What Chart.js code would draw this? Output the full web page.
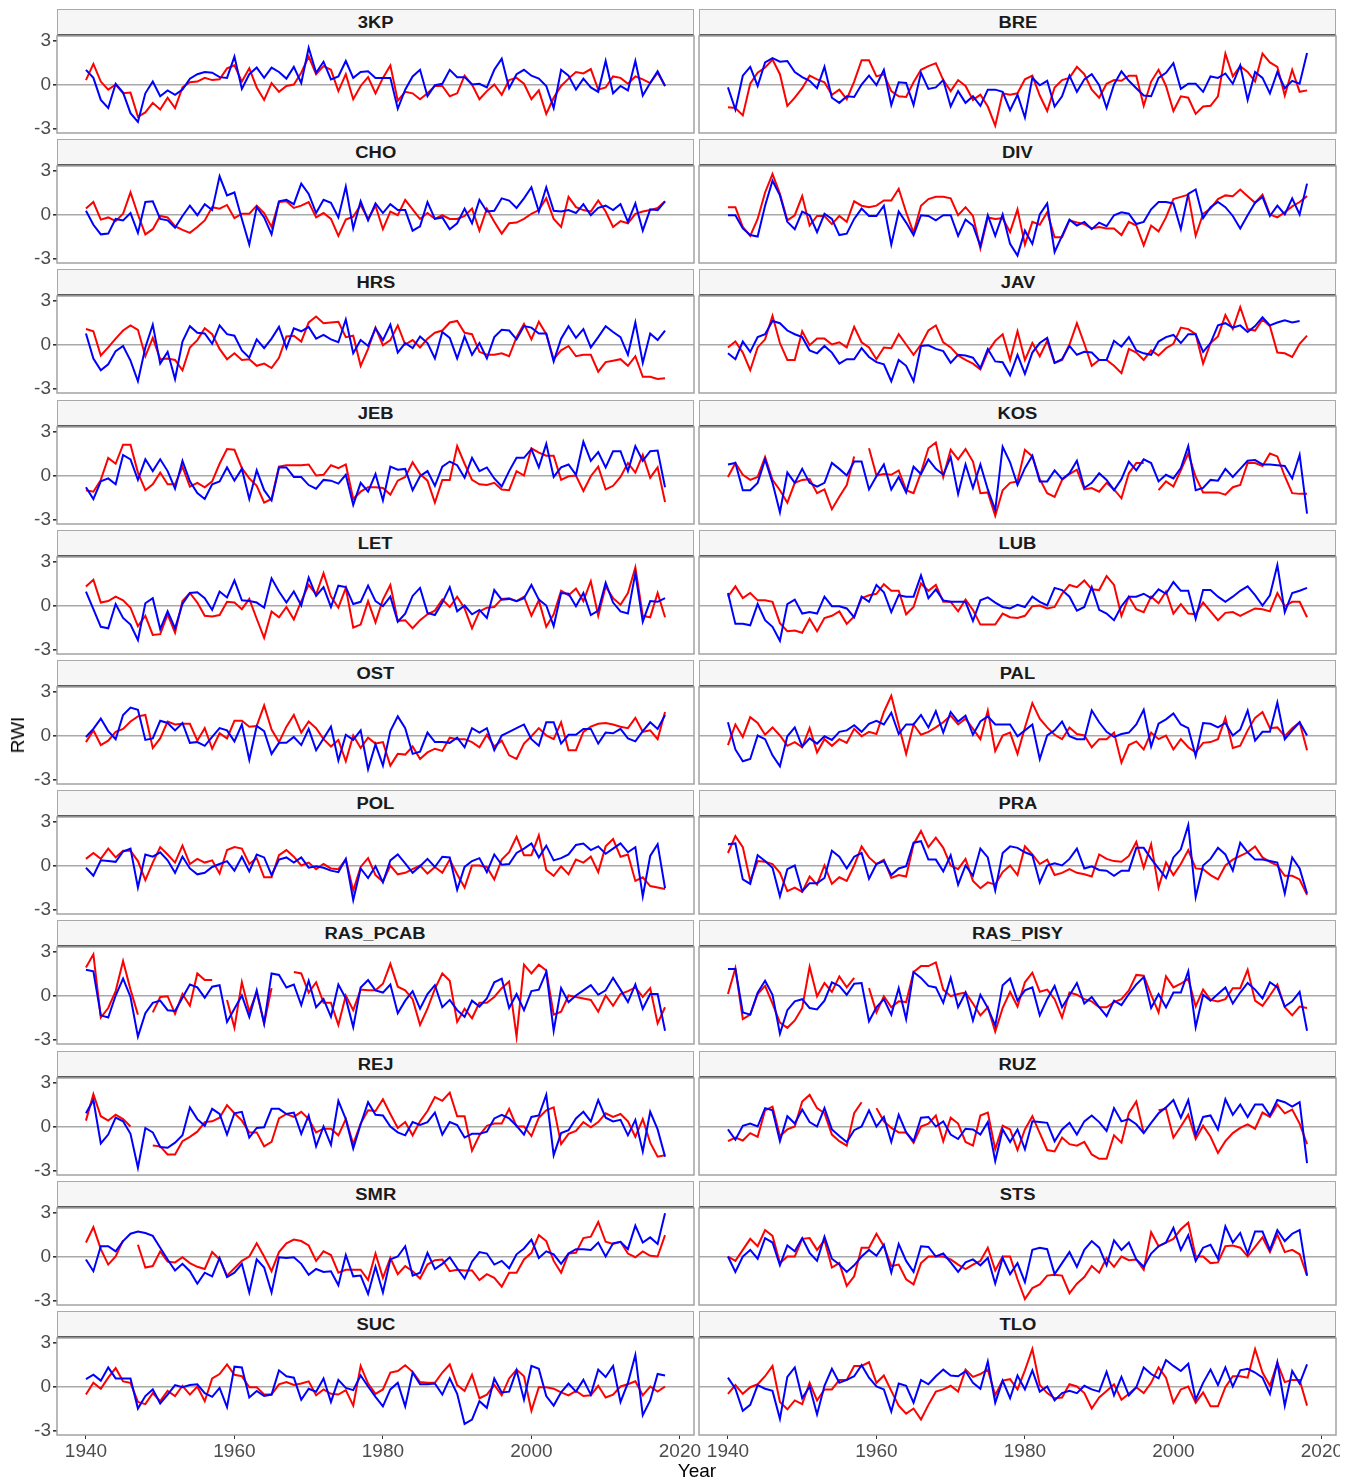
<!DOCTYPE html>
<html><head><meta charset="utf-8">
<script src="https://cdn.jsdelivr.net/npm/chart.js@4.4.1/dist/chart.umd.min.js"></script>
<style>
html,body{margin:0;padding:0;background:#fff;}
body{width:1358px;height:1483px;position:relative;overflow:hidden;font-family:'Liberation Sans',Arial,sans-serif;}
.strip{position:absolute;box-sizing:border-box;background:#f6f6f6;border:1px solid #a9a9a9;border-bottom:2px solid #5c5c5c;display:flex;align-items:center;justify-content:center;padding-top:2px;}
.strip span{font-weight:bold;font-size:16px;color:#1a1a1a;display:inline-block;transform:scaleX(1.15);}
canvas{position:absolute;}
.axt{position:absolute;font-size:19px;color:#000;white-space:nowrap;}
</style></head><body>
<script>
const years = [1940,1941,1942,1943,1944,1945,1946,1947,1948,1949,1950,1951,1952,1953,1954,1955,1956,1957,1958,1959,
1960,1961,1962,1963,1964,1965,1966,1967,1968,1969,1970,1971,1972,1973,1974,1975,1976,1977,1978,1979,
1980,1981,1982,1983,1984,1985,1986,1987,1988,1989,1990,1991,1992,1993,1994,1995,1996,1997,1998,1999,
2000,2001,2002,2003,2004,2005,2006,2007,2008,2009,2010,2011,2012,2013,2014,2015,2016,2017,2018];
const siteNames = ['3KP','BRE','CHO','DIV','HRS','JAV','JEB','KOS','LET','LUB','OST','PAL','POL','PRA','RAS_PCAB','RAS_PISY','REJ','RUZ','SMR','STS','SUC','TLO'];
const xTicks = [1940,1960,1980,2000,2020];
const yTicks = [-3,0,3];

const red_3KP = [0.3,1.4,0.2,-0.35,0.0,-0.6,-0.55,-2.2,-1.9,-1.25,
-1.7,-0.9,-1.6,-0.2,0.15,0.2,0.45,0.3,0.35,1.1,
1.3,0.2,1.1,-0.2,-1.05,0.1,-0.5,-0.1,0.0,0.8,
1.9,0.7,1.25,1.0,-0.45,0.7,-1.0,-0.1,0.5,-0.6,
0.45,1.3,-1.1,-0.5,-0.6,-1.0,-0.6,-0.1,-0.1,-0.8,
-0.6,0.6,0.0,-1.0,-0.45,0.0,-0.7,0.3,0.45,0.05,
-1.0,-0.4,-2.0,-0.9,-0.1,0.4,0.85,0.75,1.05,-0.35,
-0.2,0.55,0.45,0.05,0.55,0.35,0.1,0.8,-0.1];
const blue_3KP = [1.0,0.45,-1.05,-1.6,0.05,-0.55,-1.95,-2.55,-0.6,0.2,
-0.8,-0.4,-0.7,-0.35,0.4,0.7,0.85,0.8,0.5,0.45,
1.9,-0.3,0.7,1.15,0.45,1.15,0.85,0.4,1.2,0.1,
2.5,0.8,1.55,0.35,0.55,1.6,0.45,0.85,0.9,0.45,
0.45,0.45,-1.65,-0.35,0.55,1.0,-0.8,-0.05,0.05,1.0,
0.5,0.5,0.0,0.05,-0.2,1.0,1.75,-0.25,0.7,1.0,
0.6,0.4,-0.1,-1.6,1.0,0.6,-0.35,0.4,-0.2,-0.5,
1.6,-0.6,-0.1,-0.4,1.6,-0.75,0.1,0.9,-0.1];
const red_CHO = [0.4,0.85,-0.35,-0.2,-0.45,0.05,1.5,0.0,-1.35,-1.0,
-0.1,-0.2,-0.8,-1.05,-1.25,-0.85,-0.4,0.5,0.4,0.65,
-0.25,0.05,0.05,0.6,0.1,-0.85,0.85,0.9,0.45,0.6,
0.85,-0.2,0.1,-0.3,-1.45,-0.35,-0.15,0.65,-0.3,0.6,
-1.0,0.2,-0.05,1.0,0.35,-0.3,0.1,-0.3,-0.05,-0.3,
-0.3,-0.1,0.4,-1.1,0.4,-0.5,-1.3,-0.6,-0.55,-0.3,
0.05,0.3,1.1,-0.3,-0.85,1.2,0.5,0.3,0.2,0.95,
0.2,-0.85,-0.45,-0.6,0.05,0.2,0.3,0.45,0.9];
const blue_CHO = [0.25,-0.7,-1.35,-1.3,-0.3,-0.4,0.1,-1.25,0.85,0.9,
-0.3,-0.4,-0.9,-0.1,0.6,-0.05,0.7,0.3,2.6,1.3,
1.5,-0.3,-2.05,0.5,-0.2,-1.35,0.9,1.0,0.7,2.1,
1.4,0.1,1.0,0.8,-0.2,1.9,-0.95,0.9,-0.4,0.75,
0.1,0.7,0.3,0.3,-1.1,-0.8,0.85,-0.3,-0.2,-1.0,
-0.6,0.4,-0.6,1.0,0.2,0.25,1.1,0.95,0.45,1.1,
1.85,0.2,1.85,0.25,0.2,0.3,0.1,0.7,-0.05,0.45,
0.6,0.3,0.7,-0.5,0.75,-1.1,0.35,0.3,0.9];
const red_HRS = [1.05,0.9,-0.75,-0.2,0.4,0.95,1.3,1.0,-0.8,0.45,
-1.0,-0.95,-1.05,-1.75,-0.2,0.3,1.1,0.7,-0.3,-1.0,
-0.6,-1.05,-1.0,-1.45,-1.3,-1.6,-0.9,0.55,0.6,0.2,
1.5,1.9,1.45,1.5,1.55,0.5,0.6,-1.45,-0.3,1.15,
-0.05,0.3,1.3,0.0,0.3,-0.2,0.4,0.8,0.95,1.5,
1.6,0.8,0.7,-0.5,-0.7,-0.7,-0.6,-0.8,0.5,1.4,
0.35,1.55,0.7,-1.0,-0.4,-0.1,-0.8,-0.7,-0.7,-1.85,
-1.2,-1.1,-1.0,-1.45,-0.8,-2.2,-2.2,-2.35,-2.3];
const blue_HRS = [0.75,-0.95,-1.75,-1.35,-0.45,-0.1,-1.1,-2.5,-0.2,1.35,
-1.3,-0.5,-2.35,0.2,1.25,0.8,0.75,0.05,1.3,0.7,
0.6,-0.4,-0.9,0.35,-0.25,0.4,1.2,-0.25,1.1,0.9,
1.2,0.4,0.65,0.35,0.15,1.7,-0.6,0.3,-0.1,1.1,
0.3,1.35,-0.55,0.1,-0.25,0.55,0.1,-0.95,0.85,0.45,
-0.95,0.55,-0.7,0.1,-0.95,0.5,1.0,0.95,0.35,1.25,
1.15,0.75,0.75,-1.15,0.4,1.25,0.45,1.05,-0.2,0.5,
1.25,0.85,0.5,-0.7,1.5,-1.25,0.75,0.3,0.95];
const red_JEB = [-1.0,-1.1,-0.3,1.2,0.8,2.1,2.1,0.2,-1.0,-0.6,
0.2,-0.6,-0.6,0.6,-0.75,-0.5,-0.8,-0.4,0.8,1.8,
1.75,0.5,-0.2,-0.7,-1.85,-1.6,0.6,0.7,0.7,0.7,
0.75,0.0,0.05,0.7,0.5,0.75,-1.6,-1.1,-0.8,-0.8,
-0.85,-1.3,-0.35,-0.1,0.9,0.1,-0.35,-1.85,-0.3,-0.3,
2.0,0.8,-0.3,-0.6,-0.65,-0.5,-0.95,-1.0,0.3,0.0,
1.85,1.55,1.35,1.35,-0.3,-0.05,0.0,-1.05,-0.05,0.6,
-0.95,-0.7,-0.1,0.85,0.2,1.4,-0.15,0.55,-1.8];
const blue_JEB = [-0.8,-1.6,-0.4,-0.2,-0.6,1.4,1.1,-0.3,1.1,0.3,
1.1,0.3,-0.9,1.0,-0.4,-1.2,-1.6,-0.6,-0.4,0.55,
-0.35,0.45,-1.6,0.35,-1.0,-1.7,0.55,0.55,-0.1,-0.1,
-0.65,-0.9,-0.3,-0.35,-0.55,0.05,-2.0,-0.5,-1.1,0.1,
-1.7,0.6,0.4,0.45,-1.0,-0.05,0.3,-0.7,0.6,0.95,
0.7,-0.15,1.2,0.3,0.55,-0.2,-0.75,0.3,1.2,1.2,
1.8,0.55,2.15,-0.1,0.55,0.75,0.05,2.3,1.0,1.6,
0.55,1.65,1.65,0.3,2.0,1.0,1.65,1.7,-0.8];
const red_LET = [1.3,1.75,0.2,0.3,0.6,0.35,-0.15,-1.4,-0.7,-2.0,
-1.95,-0.6,-1.85,0.3,0.85,0.2,-0.7,-0.75,-0.65,0.25,
0.2,-0.25,0.45,-0.9,-2.2,-0.4,-0.8,-0.1,-0.95,0.3,
1.4,0.75,2.2,0.6,-0.15,1.2,-1.5,-1.3,0.3,-1.15,
0.4,1.4,-1.05,-1.0,-1.55,-1.0,-0.6,-0.35,0.4,-0.1,
0.6,-0.2,-1.55,-0.4,-0.15,-0.1,0.45,0.5,0.3,0.6,
-0.7,0.35,-1.45,-0.6,1.0,0.7,1.15,0.3,1.65,-0.7,
1.3,0.5,0.05,0.85,2.6,-0.7,-0.8,0.85,-0.8];
const blue_LET = [0.95,-0.25,-1.45,-1.55,0.1,-0.85,-1.3,-2.35,0.15,0.5,
-1.6,-0.4,-1.55,0.1,0.85,0.9,0.5,-0.3,0.95,0.55,
1.7,0.35,0.3,0.2,-0.15,1.85,0.95,0.2,0.95,0.0,
1.9,0.65,1.25,-0.1,1.35,1.25,0.1,0.25,1.35,0.3,
-0.05,0.6,-1.1,-0.55,0.65,1.2,-0.5,-0.65,0.2,1.25,
-0.4,0.0,-0.6,-0.3,-0.85,1.05,0.4,0.45,0.3,0.5,
1.4,0.4,0.0,-1.4,0.85,0.8,-0.05,0.85,-0.65,-0.35,
1.55,0.2,-0.4,-0.55,2.2,-1.1,0.3,0.25,0.5];
const red_OST = [-0.45,0.35,-0.65,-0.35,0.25,0.45,0.95,1.3,1.4,-0.85,
-0.2,0.95,0.75,0.8,0.8,-0.35,0.5,-0.9,0.15,-0.2,
1.0,1.0,0.6,0.65,2.05,0.4,-0.45,0.6,1.4,0.2,
0.95,0.5,-0.25,-0.75,-0.3,-1.75,0.0,-0.85,-0.15,-0.55,
-0.45,-2.05,-1.25,-1.3,-0.75,-1.6,-1.15,-0.9,-1.05,-0.15,
-0.25,-0.25,-0.45,-0.8,0.05,-0.75,-0.35,-1.35,-1.6,-0.55,
-0.05,0.5,0.0,-0.25,0.9,-1.0,-1.0,0.25,0.6,0.8,
0.85,0.75,0.6,0.5,1.2,0.25,0.35,-0.25,1.6];
const blue_OST = [-0.1,0.45,1.15,0.3,-0.25,1.4,1.9,1.75,-0.3,-0.2,
1.0,0.85,0.35,0.85,-0.5,-0.45,-0.7,-0.1,0.5,0.35,
-0.4,0.75,-1.65,0.65,0.3,-1.25,-0.5,-0.5,-0.1,-0.65,
0.45,-1.0,-0.2,0.6,-1.7,0.05,-0.3,0.35,-2.3,-0.6,
-2.05,0.3,1.3,0.5,-1.25,-1.1,0.2,-0.45,-0.45,-0.5,
-0.15,-0.8,0.5,0.2,0.5,-1.0,0.0,0.25,0.5,0.75,
-0.25,-0.7,0.9,0.9,-0.55,0.05,0.05,0.45,0.45,-0.55,
0.2,0.15,0.45,-0.2,-0.4,0.3,0.9,0.45,1.4];
const red_POL = [0.45,0.85,0.45,1.15,0.55,1.0,1.0,0.3,-1.0,0.2,
1.25,0.75,0.2,1.35,0.1,0.45,0.2,0.35,-0.55,1.05,
1.25,1.15,0.1,0.5,-0.8,-0.8,0.7,1.05,0.6,0.0,
0.2,-0.25,0.1,-0.2,-0.25,0.4,-1.7,-0.1,0.5,-0.65,
-1.1,0.0,-0.6,-0.5,-0.25,0.0,-0.55,-0.1,-0.5,0.4,
-0.6,-1.5,0.0,0.0,-0.1,-0.95,0.4,0.9,1.95,0.7,
0.7,2.05,-0.3,-0.7,-0.05,-0.6,0.4,0.2,0.6,-0.45,
1.3,1.8,0.6,0.75,-1.05,-0.8,-1.4,-1.5,-1.6];
const blue_POL = [-0.15,-0.7,0.35,0.3,0.25,0.95,1.15,-1.5,0.75,0.6,
0.9,0.35,-0.5,0.6,-0.2,-0.6,-0.5,-0.1,0.1,0.3,
-0.35,0.6,-0.4,0.75,0.55,-0.65,0.4,0.55,0.2,0.55,
-0.15,-0.05,-0.15,-0.35,-0.45,0.45,-2.35,-0.2,-0.85,-0.05,
-1.15,0.35,0.75,0.15,-0.5,-0.05,0.45,-0.1,0.6,0.55,
-1.65,-0.1,0.3,0.5,-0.45,0.75,0.05,0.1,0.85,1.15,
1.5,0.55,1.35,0.35,0.5,0.75,1.4,1.5,1.05,1.3,
0.8,1.15,1.5,0.9,1.25,-2.1,0.65,1.45,-1.55];
const red_RAS_PCAB = [1.9,2.8,-1.5,-0.85,0.3,2.35,0.4,-1.3,null,-1.15,
-0.1,-0.05,-1.25,0.1,-0.7,1.5,1.05,1.05,null,-0.3,
-2.2,0.9,-1.1,0.2,-1.9,0.5,null,null,1.6,1.5,
0.2,0.9,-0.5,-0.5,-2.0,0.0,-1.0,0.4,0.35,0.35,
0.8,2.15,0.6,0.35,-0.25,-2.0,-0.9,0.45,1.5,1.0,
-1.8,-0.9,-1.55,-0.5,-0.5,-0.1,0.5,0.95,-2.8,2.1,
1.5,2.1,1.7,-1.3,-1.1,0.0,-0.1,-0.2,-0.3,-1.1,
0.0,-0.7,0.1,0.3,0.55,-0.1,0.5,-1.9,-0.8];
const blue_RAS_PCAB = [1.75,1.65,-1.35,-1.5,0.0,1.15,-0.1,-2.8,-1.2,-0.5,
-0.35,-1.0,-1.05,-0.15,0.75,0.55,-0.15,0.6,0.7,-1.8,
-0.9,0.0,-1.45,0.35,-1.9,1.5,1.4,0.55,0.75,-0.65,
1.0,-0.8,-0.25,-1.45,0.75,-0.2,-2.15,0.55,1.05,0.35,
0.2,0.75,-1.2,-0.35,0.3,-0.9,0.1,0.7,-0.8,-0.3,
-1.0,-1.45,-0.35,-0.75,-0.2,0.9,1.15,-0.85,0.1,-1.0,
0.3,0.4,1.6,-2.4,0.5,-0.45,0.0,0.35,0.7,0.05,
0.35,1.2,0.4,-0.45,0.75,-0.9,0.1,0.1,-2.4];
const red_REJ = [0.4,2.2,0.7,0.4,0.8,0.5,0.0,null,null,-1.3,
-1.35,-1.9,-1.9,-1.0,-0.7,-0.35,0.3,0.35,0.6,1.45,
0.9,0.4,-0.4,-0.4,-1.35,-1.05,0.55,0.85,0.65,1.0,
0.5,-0.4,-0.15,-0.15,-0.6,0.5,-1.2,0.2,1.1,1.05,
1.85,0.85,-0.1,0.3,-0.6,0.35,1.05,2.0,1.75,2.3,
0.7,0.7,-1.65,-0.6,0.05,0.2,0.2,1.2,0.0,0.0,
-0.65,0.6,1.1,1.3,-1.2,-0.5,-0.3,0.3,-0.05,0.3,
0.9,0.65,0.85,0.35,-0.7,0.5,-1.1,-2.05,-1.95];
const blue_REJ = [0.9,1.8,-1.15,-0.55,0.6,0.35,-0.5,-2.8,-0.1,-0.4,
-1.4,-1.45,-1.1,-0.6,1.3,0.5,0.05,1.2,0.85,-0.55,
0.9,1.0,-0.75,-0.1,-0.05,1.2,1.2,0.85,0.95,-0.5,
0.75,-1.35,0.0,-1.25,1.75,0.5,-1.5,0.15,1.65,0.8,
0.75,0.0,-0.4,-0.6,0.3,0.1,0.3,0.95,-0.55,0.3,
0.1,-0.75,-0.5,-0.5,-0.35,0.55,0.8,0.55,0.05,-0.55,
0.65,0.75,2.15,-1.95,-0.45,-0.25,0.55,1.0,0.35,1.8,
0.6,0.35,0.45,-0.6,0.45,-1.7,1.0,-0.2,-2.05];
const red_SMR = [0.95,2.0,0.5,-0.55,0.0,1.1,null,0.8,-0.75,-0.65,
0.35,-0.35,-0.4,-0.05,-0.45,-0.7,-0.85,0.3,-0.2,-1.3,
-0.8,-0.3,0.0,0.9,0.0,-1.0,0.3,0.9,1.15,1.05,
0.75,-0.3,0.35,0.1,-1.1,-0.9,-0.9,-0.9,-1.6,0.2,
-1.45,-0.1,-1.2,-0.65,-1.0,-1.5,-0.55,-0.25,-0.2,-1.0,
-0.9,-0.95,-0.95,-1.6,-1.2,-1.45,-2.05,-1.1,-1.1,-0.2,
0.25,1.45,1.05,-0.3,-1.1,0.2,0.25,1.25,1.35,2.35,
1.0,0.85,1.0,0.2,-0.05,0.35,0.05,0.0,1.45];
const blue_SMR = [-0.2,-1.0,0.7,0.7,0.35,1.05,1.55,1.7,1.6,1.4,
0.6,-0.2,-0.95,-0.5,-1.0,-1.85,-1.1,-1.35,-0.1,-1.4,
-1.1,-0.5,-2.45,-0.2,-0.75,-2.45,-0.05,-0.1,-0.05,-0.5,
-1.25,-0.85,-1.05,-1.0,-1.95,0.1,-1.35,-1.3,-2.55,-0.7,
-2.45,-0.2,0.0,0.7,-1.3,-1.1,0.25,-0.85,-0.5,-0.05,
-0.8,-1.5,-0.35,0.3,0.2,-0.55,-0.3,-0.8,0.15,0.55,
1.15,-0.1,0.35,0.15,-0.5,0.2,0.5,0.5,0.45,0.95,
0.0,0.9,1.0,0.5,2.1,0.95,1.3,0.85,2.95];
const red_SUC = [-0.55,0.25,-0.15,0.6,1.25,0.35,0.25,-1.05,-1.2,-0.45,
-1.0,-0.3,-0.65,0.05,-0.55,0.0,-1.0,0.55,0.85,1.5,
0.8,0.7,-0.05,-0.05,-0.55,-0.55,0.15,0.3,0.1,0.2,
0.35,-0.6,-0.2,-0.5,-0.55,-0.25,-1.3,1.4,0.2,-0.5,
-0.2,0.95,1.05,1.45,1.0,0.3,0.25,0.25,0.95,1.5,
0.1,-0.3,0.8,-0.8,-0.55,0.1,-0.6,0.55,1.15,0.7,
-1.65,-0.05,-0.05,-0.15,-0.4,-0.6,-0.3,-0.65,-0.6,0.05,
-0.75,-0.55,0.0,0.15,0.35,-0.6,0.0,-0.35,0.0];
const blue_SUC = [0.5,0.8,0.4,1.3,0.55,0.55,0.55,-1.5,-0.65,-0.2,
-1.15,-0.55,0.1,-0.05,0.1,0.15,-0.45,-0.7,-0.1,-1.4,
1.35,1.3,-0.75,-0.3,-0.65,-0.55,1.1,0.7,0.6,-0.9,
-0.15,-0.35,0.55,-1.05,0.45,-0.1,-0.25,0.75,0.0,-0.7,
-1.35,-0.2,0.25,-1.35,0.95,0.15,0.15,0.2,-0.55,0.55,
-0.5,-2.55,-2.25,-1.0,-1.45,0.55,-0.4,-0.35,1.1,-0.9,
1.4,1.2,-0.65,-1.3,-0.4,0.2,-0.35,0.45,-0.55,1.15,
0.65,1.4,-1.05,0.25,2.15,-1.95,-0.95,0.85,0.75];
const red_BRE = [-1.55,-1.6,-2.1,0.05,0.8,1.15,1.7,0.7,-1.45,-0.9,
-0.25,0.6,0.35,0.15,-0.7,-0.35,-1.0,0.2,1.65,1.65,
0.55,0.7,-0.45,-0.8,-0.85,0.15,1.0,1.25,1.45,0.3,
-0.45,0.3,-0.1,-1.05,-0.7,-1.5,-2.8,-0.6,-0.7,-0.6,
0.35,0.6,-0.75,-1.8,-0.2,0.3,0.45,1.2,0.7,-0.35,
-0.9,0.05,0.3,0.25,0.6,0.6,-1.45,0.2,1.0,-0.1,
-1.8,-0.8,-0.9,-2.0,-1.5,-1.45,-0.8,2.1,0.55,1.25,
0.85,0.2,2.1,1.5,1.2,-0.75,1.0,-0.5,-0.4];
const blue_BRE = [-0.2,-1.7,0.6,1.2,-0.1,1.5,1.8,1.55,1.6,0.85,
0.5,0.25,-0.25,1.2,-0.9,-1.25,-0.8,-0.85,0.0,0.6,
-0.05,1.0,-1.4,0.15,0.1,-1.4,0.8,-0.3,-0.2,0.3,
-1.5,-0.45,-1.25,-0.8,-1.45,-0.35,-0.35,-0.5,-1.75,-0.7,
-2.25,0.45,-0.05,0.25,-1.5,-0.8,0.6,-0.5,0.35,0.7,
-0.05,-1.6,0.0,0.9,0.25,-0.25,-0.75,-0.8,0.45,0.8,
1.45,-0.3,0.05,0.05,-0.5,0.55,0.45,0.75,0.05,1.3,
-1.05,0.85,0.45,-0.6,0.85,-0.25,0.25,0.05,2.15];
const red_DIV = [0.5,0.5,-0.85,-1.45,-0.3,1.5,2.75,1.4,-0.4,-0.05,
1.25,-0.75,-0.1,-0.1,-0.65,-0.1,-0.5,0.9,0.6,0.5,
0.6,0.95,0.95,1.75,0.15,-1.25,0.6,1.05,1.2,1.2,
1.1,-0.05,0.5,-0.1,-2.3,-0.2,-0.3,-0.25,-1.2,0.35,
-2.05,-0.5,-0.7,0.15,-1.55,-1.55,-0.4,-0.55,-0.65,-0.95,
-0.85,-0.95,-0.95,-1.4,-0.5,-0.75,-2.1,-0.75,-1.15,-0.2,
1.05,1.2,1.35,-1.45,0.05,0.4,1.05,1.3,1.25,1.7,
1.25,0.8,1.35,0.0,-0.2,0.15,0.55,0.85,1.25];
const blue_DIV = [-0.05,-0.05,-0.95,-1.4,-1.5,0.6,2.3,1.3,-0.5,-1.0,
0.2,-0.05,-1.2,0.05,-0.3,-1.4,-1.3,-0.3,0.4,-0.1,
-0.1,0.6,-2.05,0.2,-0.55,-1.4,-0.05,-0.1,-0.4,-0.05,
-0.05,-1.45,-0.35,-0.75,-2.15,-0.05,-1.45,0.0,-2.0,-2.8,
-1.1,-2.0,0.0,0.75,-2.55,-1.45,-0.35,-0.75,-0.5,-1.0,
-0.55,-0.8,-0.05,0.15,0.05,-0.65,-0.5,0.35,0.85,0.85,
0.75,-1.0,1.4,1.7,-0.25,0.5,0.85,0.5,-0.1,-0.95,
-0.05,0.8,1.2,-0.1,0.6,0.0,1.1,0.0,2.1];
const red_JAV = [-0.2,0.2,-0.55,-1.75,-0.2,0.35,1.95,0.1,-1.05,-1.05,
0.9,-0.05,0.4,0.4,0.0,0.15,-0.2,1.2,0.15,-0.2,
-1.0,-0.2,-0.25,0.7,0.0,-0.7,0.0,0.95,1.3,0.15,
-0.2,-0.75,-1.05,-1.3,-1.7,-0.5,0.25,0.7,-1.05,0.9,
-1.05,0.1,-0.8,0.25,-1.25,-1.05,0.0,1.45,0.05,-1.45,
-1.05,-1.05,-1.45,-1.95,-0.3,-0.55,-1.05,-0.4,-0.75,-0.25,
0.05,1.15,1.05,0.7,-1.3,0.1,0.55,2.0,1.05,2.55,
1.05,0.95,1.7,1.25,-0.55,-0.6,-0.85,0.05,0.6];
const blue_JAV = [-0.6,-1.0,0.2,-0.5,0.5,0.7,1.6,1.45,0.95,0.7,
0.5,-0.4,-0.6,-0.1,-0.55,-1.3,-1.0,-1.0,-0.25,-0.85,
-1.2,-1.35,-2.5,-1.05,-1.45,-2.5,-0.1,-0.05,-0.3,-0.45,
-1.25,-0.7,-0.75,-0.9,-1.6,-0.3,-1.15,-1.2,-2.1,-0.7,
-2.0,-0.55,0.1,0.45,-1.25,-1.0,-0.1,-0.7,-0.5,-0.55,
-1.05,-1.05,0.25,-0.15,0.5,-0.4,-0.6,-0.7,0.2,0.5,
0.65,0.1,0.7,0.7,-0.5,0.1,1.3,1.45,1.15,1.3,
0.85,1.25,1.85,1.3,1.5,1.65,1.5,1.6,null];
const red_KOS = [-0.1,0.85,0.05,-0.3,-0.1,1.25,-0.3,-1.0,-1.85,-0.5,
-0.3,-0.25,-1.2,-0.95,-2.3,-1.45,-0.65,1.3,null,1.85,
0.0,0.1,0.05,0.35,-1.0,-1.2,0.2,1.85,2.25,-0.1,
1.75,1.1,1.8,0.95,-1.2,-1.15,-2.75,-1.0,-0.5,-0.4,
1.75,1.3,-0.25,-1.2,-1.45,-0.3,0.1,0.4,-0.95,-0.85,
-1.1,-0.5,-0.95,-1.55,0.15,0.85,0.85,null,-1.0,-0.4,
-0.75,0.35,1.5,-0.1,-1.15,-1.15,-1.15,-1.3,-0.8,-0.65,
0.85,0.85,0.65,1.5,1.3,-0.05,-1.2,-1.25,-1.25];
const blue_KOS = [0.75,0.85,-1.0,-1.0,-0.5,1.1,-0.5,-2.5,0.2,-0.5,
0.45,-0.5,-0.75,-0.5,0.85,0.45,0.0,0.95,0.95,-0.95,
-0.05,0.75,-0.95,-0.1,-1.15,0.6,0.1,1.1,0.45,0.05,
1.25,-1.25,0.75,-0.85,0.75,-0.95,-2.35,1.95,0.9,-0.65,
0.5,1.35,-0.4,-0.4,0.35,-0.25,0.15,1.0,-0.85,-0.5,
0.15,-0.3,-1.0,-0.25,0.95,0.35,1.1,0.85,-0.4,0.05,
-0.2,0.5,2.0,-1.0,-0.85,-0.3,-0.35,0.45,-0.1,0.45,
1.0,1.05,0.75,0.75,0.7,0.65,-0.2,1.4,-2.6];
const red_LUB = [0.6,1.3,0.5,0.85,0.35,0.35,0.25,-1.2,-1.75,-1.7,
-1.85,-0.9,-1.75,-0.85,-0.7,-0.4,-1.25,-0.75,0.5,0.7,
0.8,1.45,1.0,1.0,-0.6,-0.1,1.5,1.0,1.4,0.25,
0.25,-0.4,0.4,-0.3,-1.3,-1.3,-1.3,-0.55,-0.8,-0.85,
-0.7,-0.05,0.0,-0.2,-0.1,0.8,1.4,1.25,1.7,1.1,
1.05,2.0,1.4,-0.7,0.6,-0.25,-0.45,0.6,0.15,0.95,
-0.55,0.1,-0.55,-0.6,0.2,-0.4,-1.0,-0.5,-0.45,-0.7,
-0.45,-0.2,-0.25,-0.4,0.85,-0.05,0.25,0.25,-0.8];
const blue_LUB = [0.85,-1.25,-1.25,-1.35,0.1,-1.0,-1.45,-2.4,0.1,0.4,
-0.55,-0.45,-0.55,0.6,-0.05,-0.05,-0.2,-0.8,0.6,0.25,
1.4,0.9,-0.45,0.7,0.6,0.6,2.05,0.5,1.1,0.35,
0.25,0.25,0.25,-1.05,0.35,0.55,0.2,-0.1,-0.2,0.05,
-0.1,0.6,0.25,0.0,1.2,1.05,0.6,-0.35,-0.1,1.25,
-0.3,-0.55,-1.0,-0.05,0.6,0.6,0.8,0.5,1.1,0.8,
1.6,1.0,1.0,-0.9,1.05,1.05,0.6,0.25,0.6,1.0,
1.3,0.7,0.0,0.7,2.75,-0.45,0.85,1.0,1.2];
const red_PAL = [-0.65,0.75,-0.1,1.25,0.85,0.05,0.55,0.0,-0.7,-0.45,
-0.8,0.5,-1.15,-0.25,-0.7,-0.25,-0.5,0.45,-0.05,0.25,
0.1,1.6,2.7,0.7,-1.25,0.75,0.05,0.25,0.55,0.9,
1.35,0.75,1.15,0.45,-0.25,1.7,-1.05,0.0,0.2,-1.25,
0.55,2.2,1.15,0.55,0.05,-0.25,0.55,0.1,0.0,-0.8,
-0.25,-0.25,0.2,-1.85,-0.65,-0.4,-0.95,0.2,-0.25,0.0,
-0.95,-0.25,-0.8,-1.15,-0.5,-0.45,-0.25,1.2,-0.85,-0.7,
0.35,1.2,1.6,0.5,0.55,-0.05,0.5,0.9,-1.0];
const blue_PAL = [0.9,-0.95,-1.75,-1.6,0.0,-0.25,-1.35,-2.1,-0.05,0.55,
-0.75,-0.2,-0.55,-0.05,-0.3,0.25,0.35,0.7,0.25,0.8,
1.0,0.75,1.55,0.1,0.75,0.75,1.4,0.55,1.65,0.2,
1.6,0.95,1.35,0.05,0.95,1.3,0.75,0.75,0.75,-0.05,
0.35,0.75,-1.6,0.0,0.35,0.95,-0.05,-0.25,-0.25,1.7,
0.9,0.25,-0.1,0.1,0.2,0.75,1.75,-0.75,0.8,1.1,
1.5,0.75,0.5,-1.4,0.85,0.8,0.55,0.85,0.0,0.4,
1.7,-0.35,0.25,0.25,2.25,-0.25,0.35,0.9,0.0];
const red_PRA = [0.85,2.0,1.25,-1.05,0.3,0.25,0.1,-0.5,-1.75,-1.5,
-1.8,-0.75,-1.3,0.0,-1.25,-0.8,-1.05,0.0,1.3,0.55,
0.1,0.4,-0.85,-0.65,-0.75,1.45,2.35,1.25,1.9,1.2,
0.0,-0.25,0.45,-1.05,-1.55,-1.15,-1.3,-0.45,0.0,-0.65,
1.3,0.75,0.1,0.4,-0.65,-0.5,-0.25,-0.5,-0.6,-0.75,
0.75,0.45,0.3,0.25,0.65,1.6,-0.15,1.45,-1.5,0.2,
-0.65,0.1,1.05,-0.2,-0.25,-0.65,-0.95,0.0,0.4,0.65,
0.9,1.3,0.55,0.25,0.0,-0.7,-0.7,-0.95,-2.0];
const blue_PRA = [1.45,1.5,-0.95,-1.25,0.7,0.3,-0.15,-2.1,-0.25,0.0,
-1.75,-1.2,-1.2,-0.85,1.0,0.6,-0.2,0.6,0.85,-0.9,
0.1,0.3,-0.65,-0.2,-0.05,1.55,1.65,0.4,0.4,-0.4,
0.7,-1.3,0.0,-0.7,1.15,0.55,-1.7,0.85,1.3,1.2,
0.9,0.7,-1.15,0.0,0.15,0.0,0.45,1.15,-0.2,-0.05,
-0.3,-0.35,-0.7,-0.35,-0.35,1.2,1.2,0.45,-0.2,-0.85,
0.55,1.1,2.75,-2.15,0.0,0.45,1.2,0.75,-0.35,1.55,
0.9,0.4,0.4,0.3,0.2,-1.9,0.55,-0.2,-1.9];
const red_RAS_PISY = [0.1,1.85,-1.6,-1.3,0.1,0.65,-0.55,-1.85,-2.2,-1.7,
-0.85,1.95,-0.05,0.85,0.25,1.3,0.55,1.2,null,0.5,
-1.15,-0.05,-0.8,-0.4,-0.45,1.6,2.0,2.0,2.25,0.4,
-0.05,0.1,0.2,-0.55,-1.35,-0.8,-2.45,-0.85,0.25,-0.75,
0.9,1.55,0.25,0.4,-0.25,-1.5,0.2,0.05,-0.25,-0.4,
-0.8,-0.8,-0.45,-0.25,0.35,1.4,1.35,0.05,-1.15,1.3,
0.55,0.8,1.15,-0.75,0.4,-0.3,-0.4,-0.25,0.5,0.5,
1.75,-0.35,-0.7,0.0,0.75,-0.8,-1.35,-0.75,-0.85];
const blue_RAS_PISY = [1.8,1.8,-1.15,-1.3,0.2,1.0,0.05,-2.6,-1.0,-0.4,
-0.25,-0.85,-0.95,-0.35,0.9,0.65,0.05,0.8,0.85,-1.75,
-0.8,-0.25,-1.3,0.5,-1.6,1.6,1.2,0.65,0.55,-0.5,
1.2,-0.8,0.2,-1.7,0.05,-0.85,-2.05,0.7,1.15,-0.35,
0.35,0.55,-1.35,-0.25,0.65,-0.8,0.0,0.85,-0.55,-0.1,
-0.8,-1.4,-0.35,-0.65,0.1,0.75,1.25,-0.85,0.1,-0.8,
0.2,0.2,1.65,-2.15,0.05,-0.35,0.1,0.55,-0.55,0.2,
0.85,0.4,-0.2,0.9,0.55,-0.75,-0.4,0.25,-2.4];
const red_RUZ = [-1.0,-0.75,-0.95,-0.45,-0.7,1.1,1.35,-0.65,-0.2,0.0,
1.7,2.15,1.25,0.9,-0.55,-1.0,-1.3,0.9,1.65,null,
1.25,0.35,-0.1,-0.4,-0.4,-1.1,0.0,0.2,0.75,-1.0,
0.6,0.2,-1.05,-1.3,0.75,0.95,-1.55,0.05,-0.2,-1.6,
-0.2,0.7,-0.45,-1.6,-1.7,-0.75,-1.2,-1.3,-1.05,-1.9,
-2.2,-2.2,-0.6,-1.1,0.9,1.7,-0.45,null,1.1,1.2,
-0.75,0.0,0.8,-0.85,0.05,-0.7,-1.8,-1.0,-0.45,-0.1,
0.15,-0.15,0.95,0.65,1.5,0.9,1.15,0.2,-1.2];
const blue_RUZ = [-0.2,-0.9,0.05,0.2,0.0,1.25,1.1,-1.0,0.7,0.2,
1.15,0.3,0.0,1.25,-0.2,-0.65,-1.05,-0.25,0.0,1.1,
0.0,0.65,-1.05,0.8,-0.4,-1.0,0.6,0.65,0.0,0.35,
-0.55,-0.85,-0.15,-0.2,-0.55,0.3,-2.35,-0.2,-1.05,-0.2,
-1.55,0.35,0.3,0.25,-1.0,-0.2,0.25,-0.55,0.35,0.75,
0.3,-0.3,1.25,0.35,0.5,0.15,-0.45,0.25,0.9,1.3,
1.8,0.6,1.8,-0.6,0.65,0.75,-0.2,1.85,0.8,1.5,
0.65,1.5,1.5,0.75,1.8,1.65,1.35,1.65,-2.5];
const red_STS = [0.0,-0.3,0.45,1.2,0.7,1.8,1.4,-0.45,0.0,0.0,
1.2,1.25,0.45,1.1,-0.75,-0.45,-2.0,-1.35,0.6,0.6,
1.55,0.7,-0.65,-0.55,-1.55,-1.9,-0.45,0.0,0.0,0.0,
-0.2,-0.55,-0.85,-0.55,-0.3,0.6,-0.95,0.0,0.0,-1.55,
-2.9,-2.15,-1.9,-1.3,-1.25,-1.3,-2.5,-1.85,-1.4,-0.65,
-1.1,-0.1,-0.7,0.0,-0.25,-0.2,-0.9,1.65,0.7,0.95,
1.2,1.85,2.3,0.0,0.0,-0.45,-0.4,0.7,0.75,0.6,
0.0,0.65,1.3,0.3,1.5,0.3,0.45,0.15,-1.3];
const blue_STS = [0.0,-1.05,0.0,0.45,-0.15,1.25,0.95,-0.6,0.75,0.35,
1.25,0.25,-0.3,1.35,-0.15,-0.55,-1.05,-0.6,0.0,0.45,
0.05,0.8,-1.1,0.85,-0.3,-1.05,0.7,0.65,0.0,0.2,
-0.4,-1.05,-0.4,-0.2,-0.6,-0.1,-1.85,-0.1,-1.2,-0.45,
-1.75,0.45,0.6,0.5,-1.2,-0.45,0.3,-0.7,0.45,1.05,
0.6,-0.6,1.1,0.45,0.95,-0.2,-0.7,0.2,0.7,0.95,
1.95,0.45,1.45,-0.3,0.6,0.8,-0.15,2.05,0.95,1.6,
0.2,1.7,1.7,0.45,1.8,1.05,1.55,1.8,-1.3];
const red_TLO = [-0.5,0.1,-0.5,-0.05,0.15,0.7,1.4,-1.05,-1.55,-0.95,
-1.2,0.25,-0.95,-0.2,-0.2,0.45,0.45,1.4,1.4,1.65,
0.25,0.75,-0.3,-1.3,-1.85,-1.5,-2.25,-1.25,-0.35,-0.2,
0.05,-0.35,1.15,0.65,0.85,1.15,-0.6,0.4,0.5,-0.2,
1.1,2.55,0.1,-0.45,-0.8,-0.75,0.15,0.0,-0.45,-1.5,
-0.75,-0.3,0.15,-0.9,-0.5,-0.05,-0.45,0.25,1.3,0.6,
-1.1,-0.2,0.0,-1.1,-0.4,-1.35,-1.35,-0.05,0.7,0.7,
0.6,2.55,0.95,0.05,1.6,0.3,0.45,0.45,-1.3];
const blue_TLO = [0.6,-0.15,-1.65,-1.25,0.1,-0.15,-0.3,-2.2,0.65,1.3,
-0.8,0.0,-1.9,0.05,1.2,0.25,0.45,0.7,1.45,0.6,
0.0,-0.2,-1.7,0.2,0.05,-1.1,0.45,0.15,0.7,1.15,
0.75,0.7,1.05,0.25,-0.15,1.7,-1.1,0.4,-0.8,0.75,
-0.2,1.1,-0.35,0.0,-0.95,-0.45,-0.3,-0.45,0.05,-0.2,
-0.35,1.0,-0.6,0.65,-0.6,-0.05,1.3,0.85,0.55,1.8,
1.4,1.05,1.55,-0.9,0.25,1.15,0.1,1.3,0.0,1.1,
1.2,0.95,0.6,-0.5,1.65,-1.3,1.05,0.2,1.5];

const redSeries = {'3KP':red_3KP,'BRE':red_BRE,'CHO':red_CHO,'DIV':red_DIV,'HRS':red_HRS,'JAV':red_JAV,'JEB':red_JEB,'KOS':red_KOS,'LET':red_LET,'LUB':red_LUB,'OST':red_OST,'PAL':red_PAL,'POL':red_POL,'PRA':red_PRA,'RAS_PCAB':red_RAS_PCAB,'RAS_PISY':red_RAS_PISY,'REJ':red_REJ,'RUZ':red_RUZ,'SMR':red_SMR,'STS':red_STS,'SUC':red_SUC,'TLO':red_TLO};
const blueSeries = {'3KP':blue_3KP,'BRE':blue_BRE,'CHO':blue_CHO,'DIV':blue_DIV,'HRS':blue_HRS,'JAV':blue_JAV,'JEB':blue_JEB,'KOS':blue_KOS,'LET':blue_LET,'LUB':blue_LUB,'OST':blue_OST,'PAL':blue_PAL,'POL':blue_POL,'PRA':blue_PRA,'RAS_PCAB':blue_RAS_PCAB,'RAS_PISY':blue_RAS_PISY,'REJ':blue_REJ,'RUZ':blue_RUZ,'SMR':blue_SMR,'STS':blue_STS,'SUC':blue_SUC,'TLO':blue_TLO};

Chart.defaults.font.family = "'Liberation Sans', Arial, sans-serif";

const panelBorder = {
  id: 'panelBorder',
  afterDraw(chart) {
    const a = chart.chartArea, c = chart.ctx;
    c.save();
    c.strokeStyle = '#a3a3a3';
    c.lineWidth = 1.5;
    c.strokeRect(a.left, a.top, a.right - a.left, a.bottom - a.top);
    c.restore();
  }
};

const ROW0 = 36, PITCH = 130.2, PH = 97, SH = 27;
const COLS = [{L: 57, R: 694}, {L: 699, R: 1336}];

siteNames.forEach((name, k) => {
  const row = Math.floor(k / 2), col = k % 2;
  const T = Math.round(ROW0 + PITCH * row);
  const L = COLS[col].L, R = COLS[col].R;
  const isBottom = row === 10;

  const s = document.createElement('div');
  s.className = 'strip';
  s.style.left = L + 'px'; s.style.top = (T - SH) + 'px';
  s.style.width = (R - L) + 'px'; s.style.height = SH + 'px';
  s.innerHTML = '<span>' + name + '</span>';
  document.body.appendChild(s);

  const padT = 14, padB = isBottom ? 0 : 14, xH = isBottom ? 34 : 0;
  const cLeft = col === 0 ? 0 : L - 8;
  const cRight = col === 0 ? R + 16 : (isBottom ? 1340 : R + 6);
  const yW = col === 0 ? L - cLeft : 0;
  const padL = col === 0 ? 0 : 8;
  const padR = cRight - R;

  const cv = document.createElement('canvas');
  cv.width = cRight - cLeft;
  cv.height = padT + PH + padB + xH;
  cv.style.left = cLeft + 'px';
  cv.style.top = (T - padT) + 'px';
  document.body.appendChild(cv);

  const red = redSeries[name], blue = blueSeries[name];
  new Chart(cv, {
    type: 'line',
    data: {
      datasets: [
        {data: years.map((yr, i) => ({x: yr, y: blue[i]})), borderColor: '#0000ff', borderWidth: 2, pointRadius: 0, tension: 0, spanGaps: false, fill: false},
        {data: years.map((yr, i) => ({x: yr, y: red[i]})), borderColor: '#ff0000', borderWidth: 2, pointRadius: 0, tension: 0, spanGaps: false, fill: false}
      ]
    },
    options: {
      responsive: false, animation: false, devicePixelRatio: 1, events: [],
      layout: {padding: {left: padL, right: padR, top: padT, bottom: padB}},
      plugins: {legend: {display: false}, tooltip: {enabled: false}},
      scales: {
        x: {
          type: 'linear', min: 1936.1, max: 2021.9, display: isBottom,
          afterBuildTicks: sc => { sc.ticks = xTicks.map(v => ({value: v})); },
          afterFit: sc => { sc.height = xH; sc.paddingLeft = 0; sc.paddingRight = 0; },
          ticks: {font: {size: 19}, color: '#4d4d4d', padding: 1, maxRotation: 0, autoSkip: false, callback: v => String(v)},
          grid: {display: true, drawOnChartArea: false, drawTicks: true, tickLength: 4, tickColor: '#333333', color: 'rgba(0,0,0,0)'},
          border: {display: false}
        },
        y: {
          type: 'linear', min: -3.3, max: 3.3, display: true,
          afterBuildTicks: sc => { sc.ticks = yTicks.map(v => ({value: v})); },
          afterFit: sc => { sc.width = yW; sc.paddingTop = 0; sc.paddingBottom = 0; },
          ticks: {display: col === 0, font: {size: 19}, color: '#4d4d4d', padding: 2, callback: v => String(v)},
          grid: {color: c => (c.tick && c.tick.value === 0) ? '#a9a9a9' : 'rgba(0,0,0,0)', lineWidth: 1.6, drawTicks: col === 0, tickLength: 4, tickColor: '#333333'},
          border: {display: false}
        }
      }
    },
    plugins: [panelBorder]
  });
});

const yt = document.createElement('div');
yt.className = 'axt';
yt.textContent = 'RWI';
yt.style.left = '18px'; yt.style.top = '735px';
yt.style.transform = 'translate(-50%,-50%) rotate(-90deg)';
document.body.appendChild(yt);

const xt = document.createElement('div');
xt.className = 'axt';
xt.textContent = 'Year';
xt.style.left = '697px'; xt.style.top = '1471px';
xt.style.transform = 'translate(-50%,-50%)';
document.body.appendChild(xt);
</script>
</body></html>
